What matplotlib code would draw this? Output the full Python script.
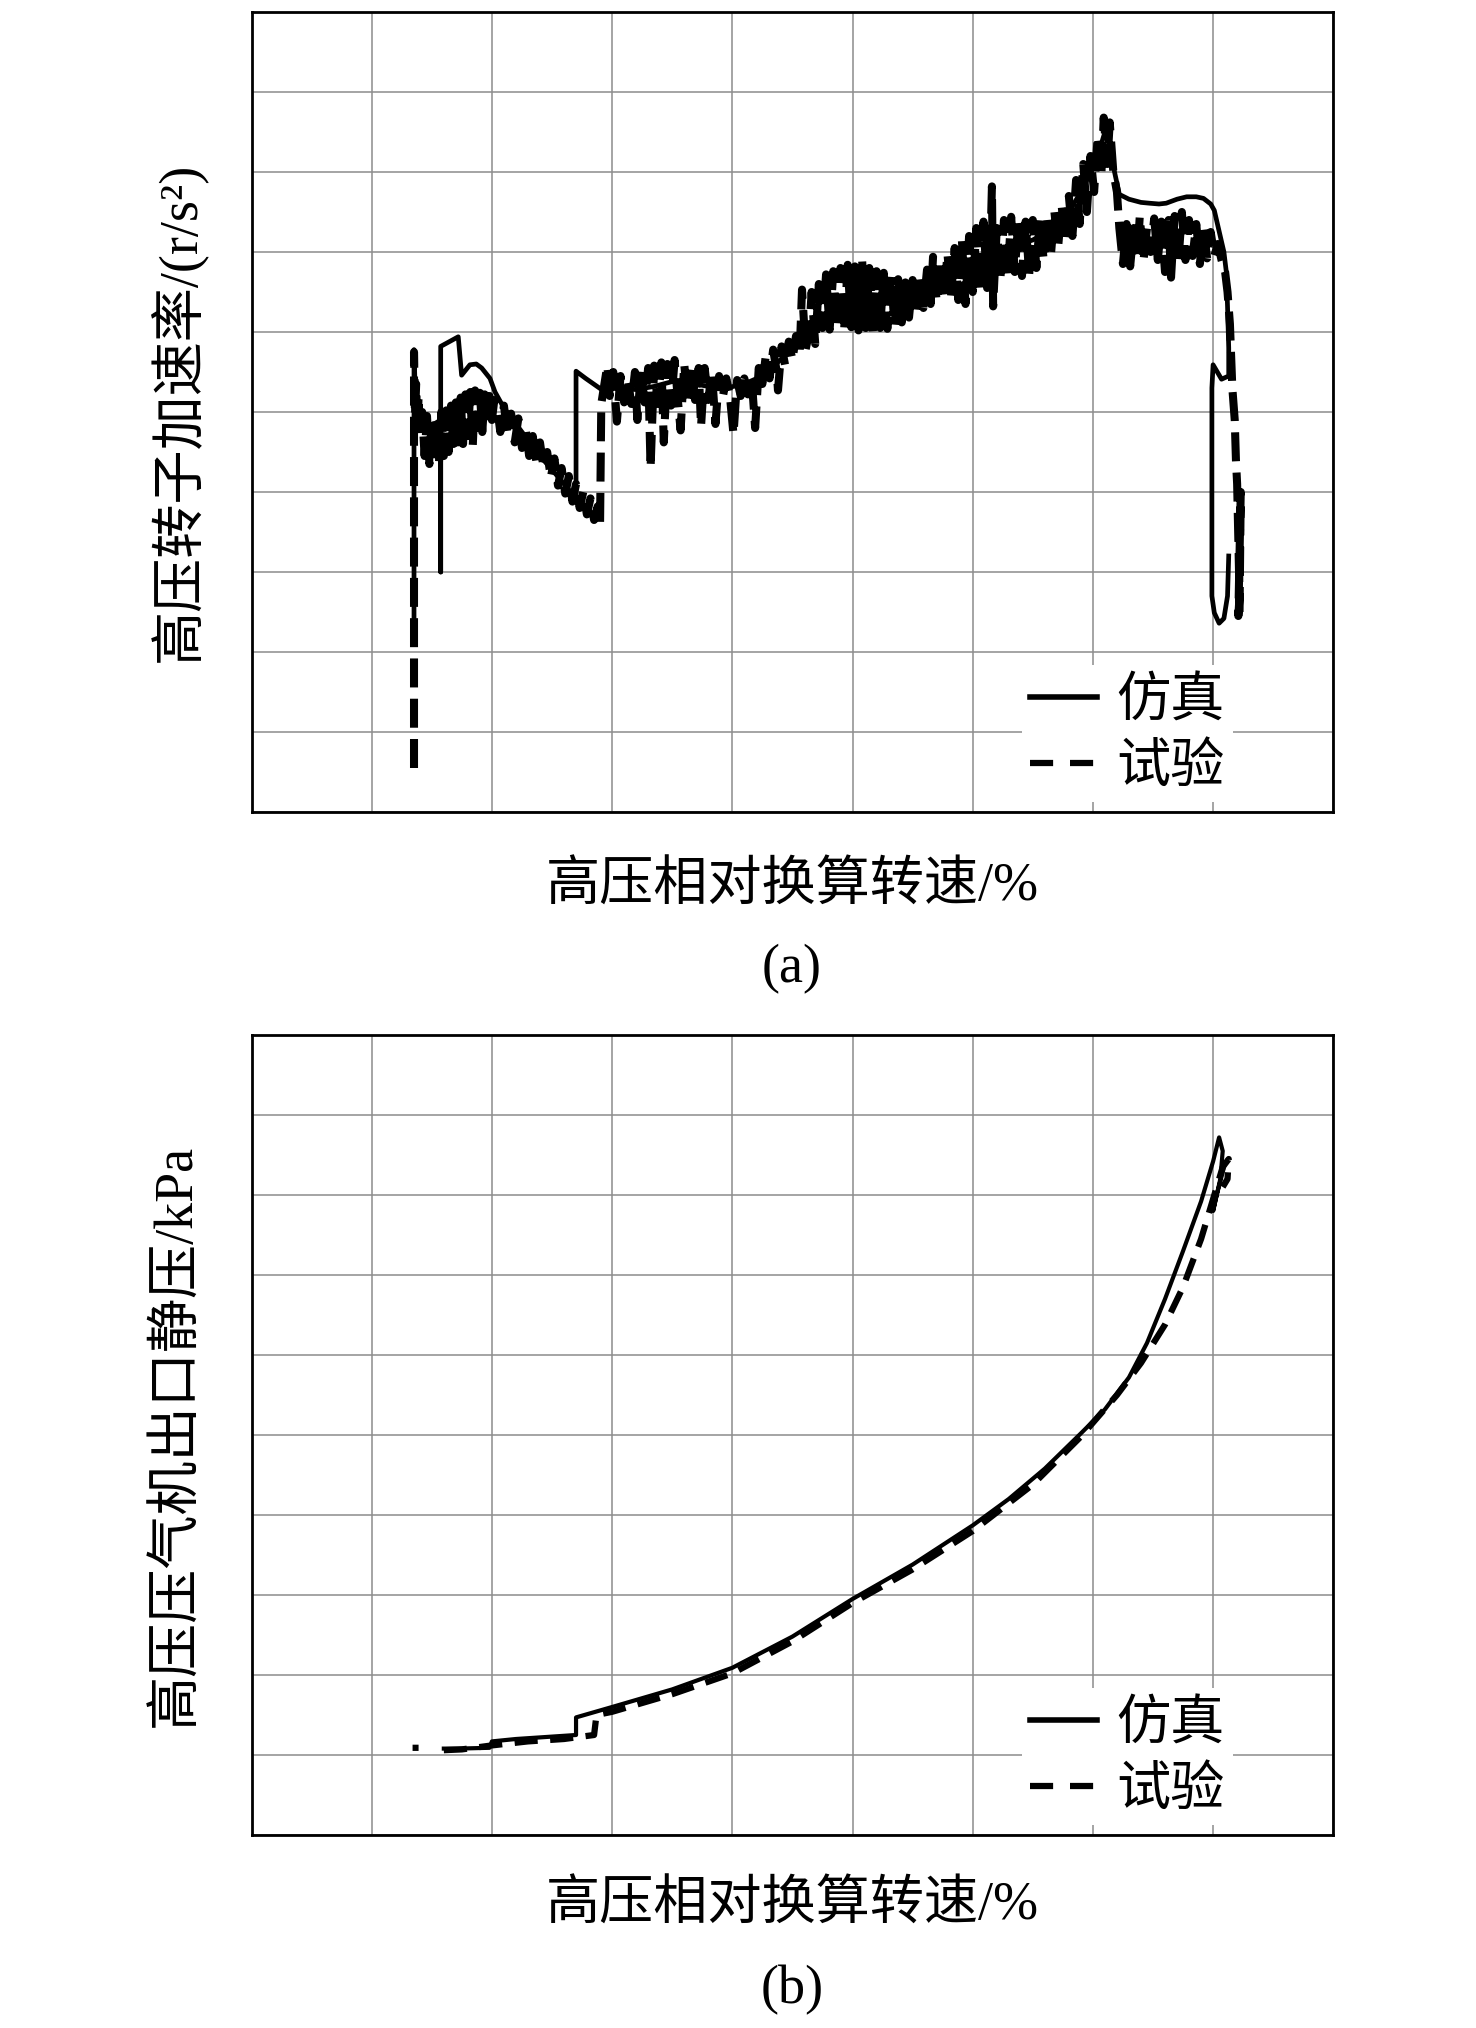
import matplotlib
matplotlib.use('Agg')
import matplotlib.pyplot as plt
from matplotlib.lines import Line2D

plt.rcParams['font.family'] = ['Liberation Serif', 'Noto Sans CJK SC']

nan = float('nan')

# ---------------- data (grid units; no numeric ticks in the original) ----------------
# panel (a): simulation (solid)
sim_a_x = [1.352, 1.352, 1.37, 1.45, 1.52, 1.574, 1.574, 1.574, 1.72, 1.748, 1.817, 1.87, 1.915, 1.984,
           2.026, 2.1, 2.2, 2.3, 2.4, 2.5, 2.6, 2.70, 2.70, 2.78, 2.913, 2.96, 3.05, 3.2, 3.35, 3.5,
           3.65, 3.8, 3.95, 4.1, 4.25, 4.4, 4.55, 4.7, 4.85, 5.0, 5.15, 5.3, 5.45, 5.6, 5.75, 5.9,
           6.05, 6.2, 6.35, 6.5, 6.65, 6.8, 6.9, 7.0, 7.06, 7.1, 7.14, 7.18, 7.22, 7.3, 7.4, 7.47,
           7.55, 7.61, 7.7, 7.78, 7.86, 7.92, 7.98, 8.01, 8.05, 8.09, 8.11, 8.12, 8.13, 8.13, 8.07,
           8.0, 7.99, 7.99, 8.01, 8.05, 8.09, 8.12, 8.13]
sim_a_y = [2.2, 5.78, 4.85, 4.8, 4.85, 4.9, 3.0, 5.82, 5.94, 5.46, 5.59, 5.6, 5.55, 5.42,
           5.25, 5.05, 4.85, 4.65, 4.45, 4.28, 4.1, 3.92, 5.51, 5.42, 5.28, 5.35, 5.3, 5.28, 5.32, 5.38,
           5.36, 5.32, 5.3, 5.35, 5.45, 5.65, 5.85, 6.1, 6.3, 6.38, 6.42, 6.45, 6.5, 6.58, 6.72, 6.85,
           6.95, 7.0, 7.08, 7.15, 7.28, 7.5, 7.75, 8.05, 8.3, 8.5, 8.35, 8.0, 7.72, 7.66, 7.62, 7.61,
           7.6, 7.61, 7.66, 7.69, 7.69, 7.67, 7.6, 7.52, 7.26, 7.0, 6.75, 6.32, 5.8, 5.45, 5.41,
           5.59, 5.3, 2.7, 2.49, 2.36, 2.42, 2.7, 3.2]

# panel (a): test (dashed, noisy)
test_a_x = [1.352, 1.352, 1.36, 1.37, 1.38, 1.39, 1.40, 1.42, 1.44, 1.46, 1.48, 1.50, 1.52, 1.54, 1.56,
            1.58, 1.60, 1.62, 1.64, 1.66, 1.68, 1.70,
            1.72, 1.74, 1.76, 1.78, 1.80, 1.82, 1.84, 1.86, 1.88, 1.90, 1.92, 1.94, 1.96, 1.98, 2.00, 2.02,
            2.04, 2.07, 2.10, 2.13, 2.16, 2.19, 2.22, 2.25, 2.28, 2.31, 2.34, 2.37, 2.40, 2.43, 2.46,
            2.49, 2.52, 2.55, 2.58, 2.61, 2.64, 2.67, 2.70, 2.73, 2.76, 2.79, 2.82, 2.85, 2.88, 2.90,
            2.91, 2.96,
            2.98, 3.01, 3.04, 3.07, 3.10, 3.13, 3.16, 3.19, 3.21, 3.24, 3.27, 3.30, 3.32, 3.35, 3.38,
            3.41, 3.43, 3.46, 3.49, 3.52, 3.55, 3.57, 3.60, 3.63, 3.66, 3.69, 3.72, 3.74, 3.77, 3.80,
            3.83, 3.86, 3.89, 3.92, 3.95, 3.98, 4.01, 4.04, 4.07, 4.10, 4.13, 4.16, 4.19, 4.22,
            4.25, 4.28, 4.31, 4.34, 4.37, 4.38, 4.41, 4.44, 4.47, 4.50, 4.53, 4.56, 4.58, 4.61, 4.64,
            4.66, 4.69,
            4.72, 4.75, 4.78, 4.81, 4.84, 4.87, 4.90, 4.93, 4.96, 4.99, 5.02, 5.05, 5.08, 5.11, 5.14,
            5.17, 5.20, 5.23, 5.26, 5.29, 5.32, 5.35, 5.38, 5.41, 5.44, 5.47, 5.50, 5.53, 5.56, 5.59,
            5.62, 5.65, 5.67, 5.70, 5.73, 5.76, 5.79, 5.82, 5.85, 5.88, 5.91, 5.94, 5.97, 6.00, 6.03,
            6.06, 6.09, 6.12, 6.15, 6.16, 6.17, 6.20, 6.23, 6.26, 6.29, 6.32, 6.35, 6.38, 6.41, 6.44,
            6.47, 6.50, 6.53,
            6.56, 6.59, 6.62, 6.65, 6.68, 6.71, 6.74, 6.77, 6.80, 6.83, 6.86, 6.89, 6.92, 6.95, 6.98,
            7.01, 7.04, 7.07, 7.09, 7.12, 7.14, 7.17, 7.20,
            7.22, 7.25, 7.28, 7.31, 7.34, 7.37, 7.39, 7.42, 7.45, 7.48, 7.51, 7.54, 7.57, 7.60, 7.63,
            7.65, 7.68, 7.71, 7.74, 7.77, 7.80, 7.83, 7.86, 7.89, 7.92, 7.95, 7.98, 8.01, 8.04,
            8.07, 8.10, 8.12, 8.14, 8.15, 8.16, 8.18, 8.19, 8.20, 8.21, 8.22, 8.21, 8.22, 8.23, 8.22]
test_a_y = [0.55, 5.75, 4.95, 5.35, 4.75, 5.2, 4.7, 5.0, 4.45, 4.95, 4.35, 4.9, 4.4, 4.95, 4.38,
            5.0, 4.45, 5.02, 4.5, 5.08, 4.6, 5.12,
            4.55, 5.18, 4.6, 5.22, 4.7, 5.25, 4.55, 5.27, 4.8, 5.24, 4.75, 5.22, 4.85, 5.2, 4.9, 5.15,
            5.1, 4.75, 5.08, 4.72, 4.98, 4.62, 4.92, 4.55, 4.8, 4.45, 4.7, 4.38, 4.62, 4.3, 4.5,
            4.18, 4.42, 4.08, 4.3, 3.98, 4.2, 3.88, 4.1, 3.8, 4.0, 3.72, 3.92, 3.65, 3.82, 3.62,
            5.1, 5.58,
            5.2, 5.5, 4.88, 5.45, 5.12, 5.42, 5.1, 5.5, 4.9, 5.52, 5.12, 5.55, 4.3, 5.58, 5.1,
            5.62, 4.62, 5.6, 5.08, 5.65, 5.1, 4.77, 5.6, 5.12, 5.58, 5.15, 5.55, 4.82, 5.55, 5.15,
            5.5, 4.85, 5.45, 5.18, 5.42, 5.2, 4.72, 5.4, 5.2, 5.42, 5.22, 5.45, 4.8, 5.55,
            5.35, 5.72, 5.42, 5.78, 5.5, 5.27, 5.82, 5.58, 5.88, 5.65, 5.95, 5.72, 6.53, 5.78, 6.0,
            6.5, 5.85,
            6.6, 6.05, 6.72, 6.03, 6.76, 6.05, 6.8, 6.02, 6.84, 6.06, 6.82, 6.02, 6.9, 6.05, 6.8,
            6.0, 6.76, 6.05, 6.74, 6.04, 6.7, 6.08, 6.66, 6.12, 6.62, 6.18, 6.65, 6.22, 6.72, 6.3,
            6.78, 6.35, 6.94, 6.38, 6.9, 6.42, 6.98, 6.45, 7.05, 6.4, 7.15, 6.35, 7.2, 6.5, 7.3,
            6.52, 7.38, 6.55, 7.25, 7.82, 6.32, 7.3, 6.65, 7.4, 6.7, 7.44, 6.75, 7.4, 6.7, 7.38,
            6.72, 7.4, 6.8,
            7.42, 6.9, 7.45, 6.95, 7.5, 7.05, 7.58, 7.12, 7.7, 7.2, 7.9, 7.35, 8.1, 7.5, 8.2,
            7.75, 8.45, 7.95, 8.68, 8.1, 8.62, 8.0, 7.75,
            7.3, 6.85, 7.35, 6.82, 7.3, 6.95, 7.45, 6.88, 7.3, 7.0, 7.42, 6.9, 7.38, 6.75, 7.4,
            6.68, 7.45, 6.85, 7.5, 6.9, 7.4, 6.95, 7.35, 6.85, 7.3, 6.92, 7.25, 6.95, 7.1,
            6.9, 6.75, 6.5, 6.1, 5.7, 5.3, 4.9, 4.4, 4.1, 3.4, 2.7, 2.45, 3.2, 4.0, 2.5]

# panel (b): simulation (solid)
sim_b_x = [1.6, 1.72, 1.98, 2.0, 2.2, 2.4, 2.7, 2.7, 3.0, 3.5, 4.0, 4.5, 5.0, 5.5, 6.0, 6.3, 6.6,
           6.9, 7.1, 7.3, 7.45, 7.6, 7.75, 7.9, 8.0, 8.05, 8.08, 8.06, 8.0, 8.03, 8.1]
sim_b_y = [1.08, 1.08, 1.09, 1.17, 1.2, 1.22, 1.25, 1.47, 1.6, 1.82, 2.09, 2.48, 2.95, 3.38, 3.87,
           4.2, 4.58, 5.02, 5.32, 5.72, 6.15, 6.7, 7.3, 7.92, 8.42, 8.72, 8.55, 8.2, 7.8, 8.0, 8.4]

# panel (b): test (dashed) - isolated first sample, then continuous record
test_b_x = [1.34, 1.39, nan, 1.6, 1.75, 2.0, 2.3, 2.6, 2.85, 2.87, 3.0, 3.5, 4.0, 4.5, 5.0, 5.5, 6.0,
            6.5, 6.9, 7.2, 7.4, 7.6, 7.75, 7.9, 8.0, 8.08, 8.13, 8.12, 8.08]
test_b_y = [1.09, 1.09, nan, 1.06, 1.07, 1.12, 1.17, 1.2, 1.25, 1.5, 1.54, 1.76, 2.02, 2.42, 2.9, 3.32,
            3.8, 4.38, 4.98, 5.5, 5.9, 6.38, 6.85, 7.45, 7.95, 8.35, 8.45, 8.2, 8.1]

legend_labels = ['仿真', '试验']
ylabels = ['高压转子加速率/(r/s²)', '高压压气机出口静压/kPa']
xlabel = '高压相对换算转速/%'
captions = ['(a)', '(b)']

# ---------------- figure ----------------
W, H = 1476, 2028
fig = plt.figure(figsize=(W / 100, H / 100), dpi=100)
fig.patch.set_facecolor('white')


def ax_rect(l, r, t, b):
    return [l / W, 1 - b / H, (r - l) / W, (b - t) / H]


ax1 = fig.add_axes(ax_rect(251.5, 1333.3, 12, 812))
ax2 = fig.add_axes(ax_rect(251.5, 1333.3, 1035, 1835))

DASH_LW = 4.5
DASHES = (3.7, 2.7)

for ax in (ax1, ax2):
    ax.set_xlim(0, 9)
    ax.set_ylim(0, 10)
    ax.set_xticks(range(10))
    ax.set_yticks(range(11))
    ax.set_axisbelow(True)
    ax.grid(True, color='#8c8c8c', lw=1.1)
    ax.tick_params(length=0, labelbottom=False, labelleft=False)
    for sp in ax.spines.values():
        sp.set_linewidth(2.0)
        sp.set_color('black')

ax1.plot(test_a_x, test_a_y, color='black', lw=5.8, dashes=(3.6, 1.4))
ax1.plot(sim_a_x, sim_a_y, color='black', lw=3.4)
ax2.plot(test_b_x, test_b_y, color='black', lw=DASH_LW, dashes=(3.7, 2.0))
ax2.plot(sim_b_x, sim_b_y, color='black', lw=3.0)

for ax in (ax1, ax2):
    handles = [Line2D([], [], color='black', lw=4.0),
               Line2D([], [], color='black', lw=DASH_LW, dashes=DASHES)]
    ax.legend(handles, legend_labels, loc='lower right', bbox_to_anchor=(0.907, 0.012),
              frameon=True, facecolor='white', edgecolor='none', framealpha=1, fancybox=False,
              borderpad=0.15, borderaxespad=0, handlelength=1.25, handletextpad=0.35,
              labelspacing=0.2,
              prop={'family': ['Noto Sans CJK SC'], 'size': 39})

FS = 39
cx = 792 / W
fig.text(cx, 1 - 887 / H, xlabel, ha='center', va='center', fontsize=FS)
fig.text(cx, 1 - 1906 / H, xlabel, ha='center', va='center', fontsize=FS)
fig.text(177 / W, 1 - 412 / H, ylabels[0], ha='center', va='center', rotation=90, fontsize=FS)
fig.text(177 / W, 1 - 1435 / H, ylabels[1], ha='center', va='center', rotation=90, fontsize=FS)
fig.text(cx, 1 - 969 / H, captions[0], ha='center', va='center', fontsize=FS)
fig.text(cx, 1 - 1990 / H, captions[1], ha='center', va='center', fontsize=FS)

fig.savefig('out.png', dpi=100, facecolor='white')
